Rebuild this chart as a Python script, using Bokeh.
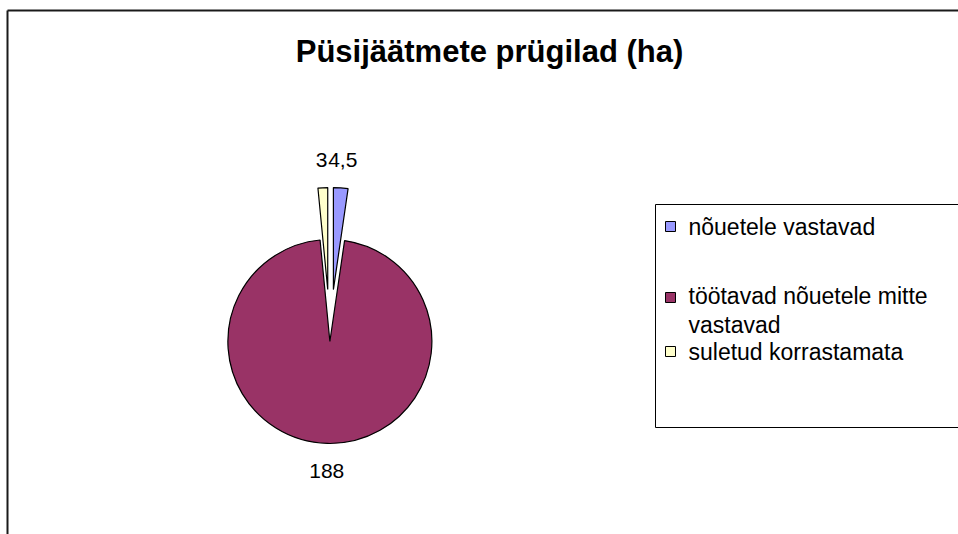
import math
from bokeh.plotting import figure
from bokeh.models import Range1d, ColumnDataSource
from bokeh.core.properties import value
from bokeh.embed import file_html
from bokeh.resources import INLINE

# ---- data ----
categories = ["nõuetele vastavad", "töötavad nõuetele mitte\nvastavad", "suletud korrastamata"]
values = [4.5, 188, 3]
title_text = "Püsijäätmete prügilad (ha)"

# ---- style ----
colors = ["#9999FF", "#993366", "#FFFFCC"]
explode_px = [47, 5, 47]
FONT = "Liberation Sans"

W, H = 958, 534


def sy(y):
    return H - y


p = figure(width=W, height=H, output_backend="svg", toolbar_location=None,
           x_range=Range1d(0, W), y_range=Range1d(0, H),
           min_border=0, x_axis_location=None, y_axis_location=None)
p.grid.visible = False
p.outline_line_color = None
p.background_fill_color = "white"
p.border_fill_color = "white"

# chart frame (only left/top visible in the window)
p.segment(x0=[7, 7], y0=[sy(10), sy(10)], x1=[7, W + 5], y1=[sy(H + 5), sy(10)],
          line_color="#1a1a1a", line_width=2)

# title
p.text(x=[489], y=[sy(51)], text=[title_text], text_font=value(FONT),
       text_font_style="bold", text_font_size="31px", text_align="center",
       text_baseline="middle", text_color="black")

# ---- pie ----
cx, cy, R = 329.5, sy(336), 102
total = sum(values)
starts, ends, xs, ys, lx, ly, labels = [], [], [], [], [], [], []
cum = 0.0
for v, ex in zip(values, explode_px):
    a0 = cum / total * 2 * math.pi
    a1 = (cum + v) / total * 2 * math.pi
    mid = (a0 + a1) / 2  # clockwise from 12 o'clock
    starts.append(math.pi / 2 - a1)
    ends.append(math.pi / 2 - a0)
    xs.append(cx + ex * math.sin(mid))
    ys.append(cy + ex * math.cos(mid))
    d = R + ex + 28
    lx.append(cx + d * math.sin(mid))
    ly.append(cy + d * math.cos(mid))
    labels.append(f"{v:g}".replace(".", ","))
    cum += v

src = ColumnDataSource(dict(x=xs, y=ys, start=starts, end=ends, color=colors,
                            lx=lx, ly=ly, label=labels))
p.wedge(x="x", y="y", radius=R, start_angle="start", end_angle="end",
        direction="anticlock", fill_color="color", line_color="black",
        line_width=1.2, source=src)
p.text(x="lx", y="ly", text="label", source=src, text_font=value(FONT),
       text_font_size="21px", text_align="center", text_baseline="middle",
       text_color="black")

# ---- legend ----
p.quad(left=[655], right=[W + 20], top=[sy(204)], bottom=[sy(427)],
       fill_color=None, line_color="black", line_width=1)
leg_y = [226, 310, 351]
sw_y = [226, 297, 351]
leg_src = ColumnDataSource(dict(x=[670] * 3, y=[sy(v) for v in sw_y], color=colors,
                                tx=[688] * 3, ty=[sy(v) for v in leg_y],
                                text=categories))
p.rect(x="x", y="y", width=10, height=10, fill_color="color", line_color="black",
       line_width=1, source=leg_src)
p.text(x="tx", y="ty", text="text", source=leg_src, text_font=value(FONT),
       text_font_size="23px", text_align="left", text_baseline="middle",
       text_line_height=1.15, text_color="black")

open("out.html", "w").write(file_html(p, INLINE))
